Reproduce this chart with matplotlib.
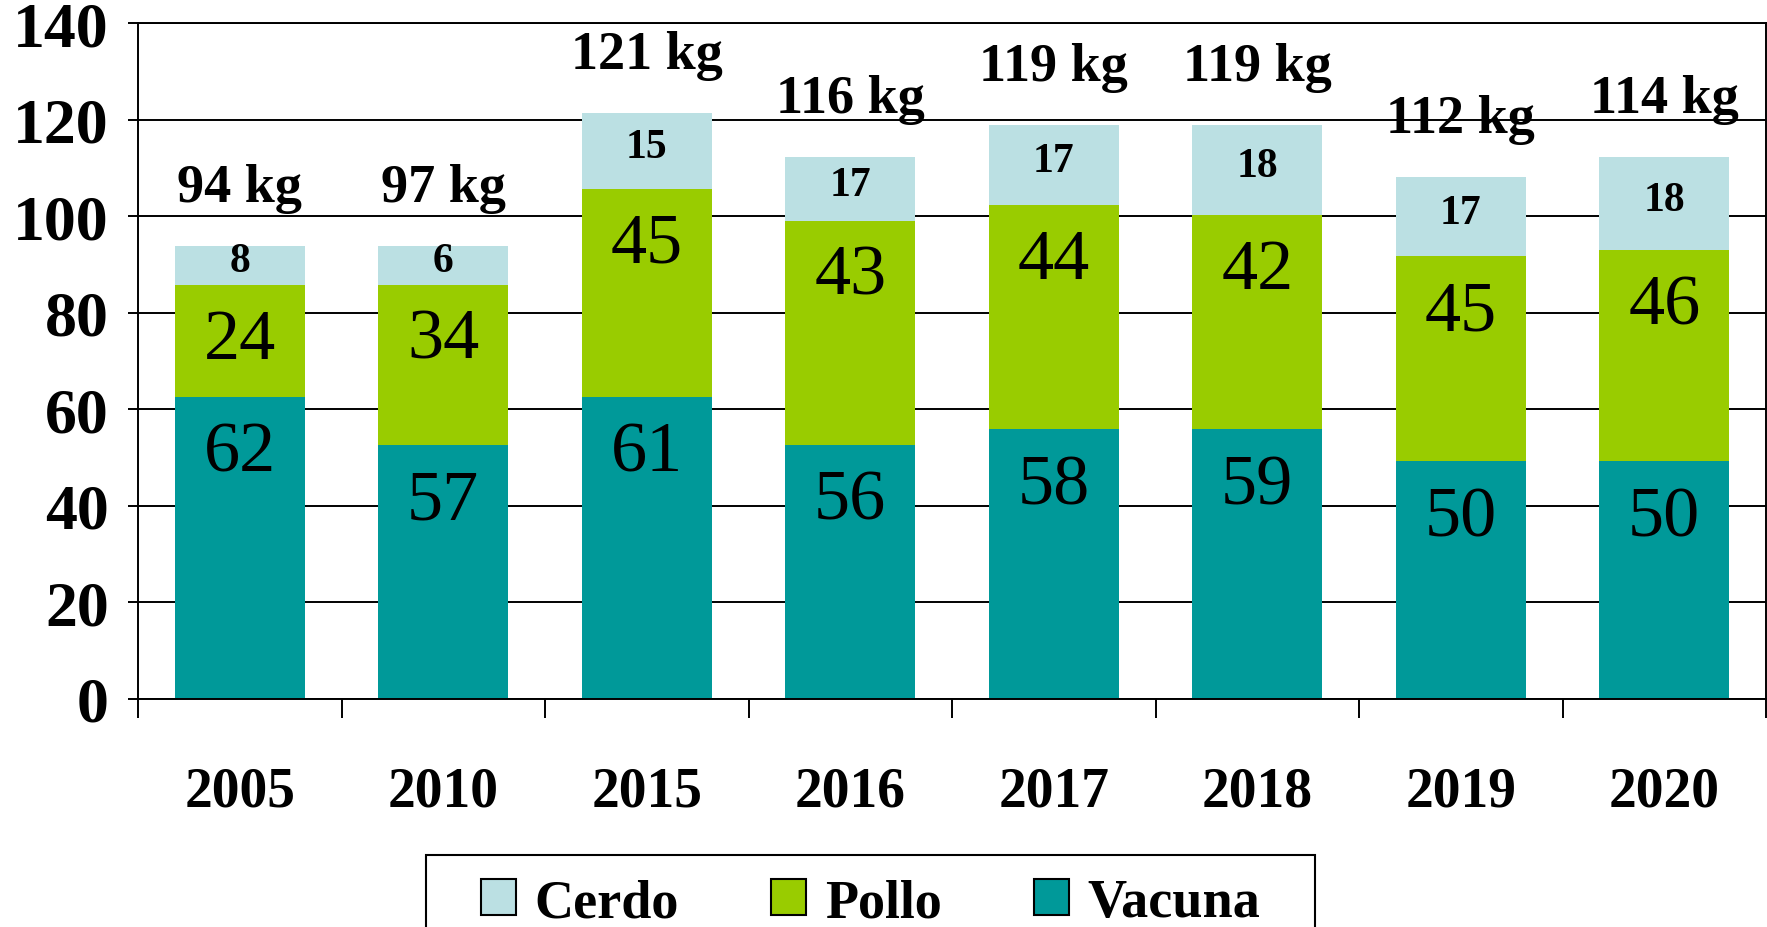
import matplotlib.pyplot as plt
import numpy as np
from matplotlib.patches import Patch, Rectangle

plt.rcParams['font.family'] = ['Liberation Serif', 'DejaVu Serif']

years = ['2005', '2010', '2015', '2016', '2017', '2018', '2019', '2020']

# segment heights as drawn in the chart
vacuna = [62.6, 52.7, 62.6, 52.7, 55.9, 55.9, 49.3, 49.3]
pollo = [23.2, 33.1, 43.1, 46.4, 46.5, 44.4, 42.4, 43.7]
cerdo = [8.1, 8.1, 15.7, 13.2, 16.5, 18.6, 16.5, 19.3]

# values printed on the chart
vacuna_lbl = [62, 57, 61, 56, 58, 59, 50, 50]
pollo_lbl = [24, 34, 45, 43, 44, 42, 45, 46]
cerdo_lbl = [8, 6, 15, 17, 17, 18, 17, 18]
total_lbl = [94, 97, 121, 116, 119, 119, 112, 114]

C_VAC = '#009999'
C_POL = '#99cc00'
C_CER = '#bbe0e3'

fig = plt.figure(figsize=(17.67, 9.28), dpi=100)
ax = fig.add_axes([138 / 1767, 1 - 700 / 928, 1628 / 1767, (700 - 24.3) / 928])

x = np.arange(len(years))
vac = np.array(vacuna)
pol = np.array(pollo)
cer = np.array(cerdo)
w = 0.64

ax.bar(x, vac, w, color=C_VAC, zorder=2)
ax.bar(x, pol, w, bottom=vac, color=C_POL, zorder=2)
ax.bar(x, cer, w, bottom=vac + pol, color=C_CER, zorder=2)

for i in range(len(years)):
    ax.text(x[i], vac[i] - 11.7, str(vacuna_lbl[i]), ha='center', va='center',
            fontsize=52, zorder=3)
    ax.text(x[i], vac[i] + pol[i] - 11.5, str(pollo_lbl[i]), ha='center', va='center',
            fontsize=52, zorder=3)
    ax.text(x[i], vac[i] + pol[i] + cer[i] / 2 + 0.8, str(cerdo_lbl[i]), ha='center',
            va='center', fontsize=30, fontweight='bold', zorder=3)
    top = vac[i] + pol[i] + cer[i]
    ax.text(x[i], top + 12, f'{total_lbl[i]} kg', ha='center', va='center',
            fontsize=39, fontweight='bold', zorder=3)

ax.set_xlim(-0.5, 7.5)
ax.set_ylim(0, 140)
ax.set_yticks(np.arange(0, 141, 20))
ax.yaxis.grid(True, color='black', linewidth=1.4, zorder=0)
ax.set_axisbelow(True)

ax.set_xticks(x)
ax.set_xticklabels(years)
ax.set_xticks(np.arange(-0.5, 8, 1), minor=True)
ax.tick_params(axis='x', which='major', length=0, pad=48, labelsize=40)
ax.tick_params(axis='x', which='minor', length=14, width=1.4, direction='out')
ax.tick_params(axis='y', length=7, width=1.4, pad=14, labelsize=46)
for lab in ax.get_xticklabels() + ax.get_yticklabels():
    lab.set_fontweight('bold')

for s in ax.spines.values():
    s.set_linewidth(1.4)
    s.set_color('black')

handles = [Patch(facecolor=C_CER, edgecolor='black', linewidth=1.5, label='Cerdo'),
           Patch(facecolor=C_POL, edgecolor='black', linewidth=1.5, label='Pollo'),
           Patch(facecolor=C_VAC, edgecolor='black', linewidth=1.5, label='Vacuna')]
fig.legend(handles=handles, ncol=3, frameon=False, loc='upper left',
           bbox_to_anchor=(454 / 1767, 1 - 852 / 928), borderpad=0,
           prop={'weight': 'bold', 'size': 39}, handlelength=0.65,
           handleheight=0.65, handletextpad=0.34, columnspacing=1.7)
fig.patches.append(Rectangle((426 / 1767, -0.05), (1315 - 426) / 1767,
                             (928 - 856) / 928 + 0.05, transform=fig.transFigure,
                             facecolor='none', edgecolor='black', linewidth=1.5))

fig.savefig('out.png', dpi=100)
